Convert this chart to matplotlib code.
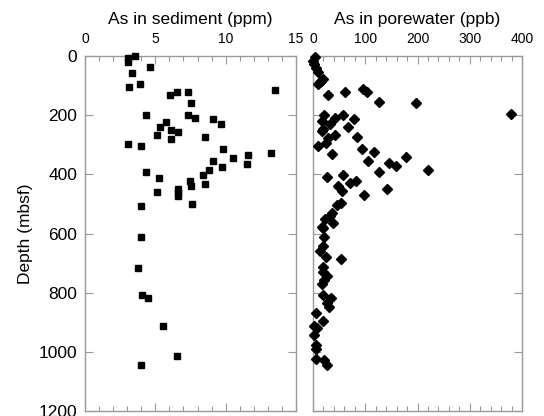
import matplotlib
matplotlib.use("Agg")
import matplotlib.pyplot as plt
from matplotlib.ticker import MultipleLocator

plt.rcParams['font.family'] = ['Liberation Sans', 'DejaVu Sans']

# As in sediment (ppm) vs depth (mbsf)
sed_ppm = [3.52, 3.05, 3.05, 4.64, 3.33, 3.14, 3.88, 13.52, 6.55, 6.02, 7.31, 7.55,
           4.36, 7.31, 7.81, 9.12, 9.64, 5.74, 5.33, 6.12, 6.64, 5.14, 6.12, 8.55,
           3.05, 3.95, 9.83, 13.2, 11.6, 10.52, 9.12, 11.5, 9.76, 8.83, 4.36, 8.40,
           5.26, 7.43, 7.55, 8.55, 5.14, 6.62, 6.62, 6.62, 3.95, 7.64,
           3.95, 3.74, 4.05, 4.45, 5.55, 6.55, 3.95]
sed_depth = [0, 8, 19, 36, 56, 106, 96, 115, 122, 132, 123, 158,
             201, 198, 208, 214, 230, 223, 241, 249, 258, 267, 279, 275,
             296, 305, 316, 327, 335, 345, 355, 365, 374, 387, 392, 401,
             411, 421, 439, 432, 459, 451, 462, 472, 506, 500,
             613, 715, 808, 819, 914, 1013, 1045]

# As in porewater (ppb) vs depth (mbsf)
pw_ppb = [3.8, 0.6, 2.5, 5.7, 10, 18.5, 13.4, 10, 15, 29.3, 61, 96, 103, 126, 197, 379,
          21.7, 58, 42, 78.5, 16.6, 32.5, 67.6, 19.8, 16.6, 42, 84.8, 29.3, 25, 10.2,
          93, 117, 37, 178, 106, 145, 158, 221, 126, 58, 26, 82, 71, 48.5, 141.6,
          55, 98, 53.6, 46.5, 35.7, 32.5, 39, 23, 16.6,
          18.5, 21, 20, 13.4, 24, 53, 18.5, 20, 26, 21, 16.6, 20, 34, 26, 31,
          5, 18.5, 2.5, 7, 1.3, 5, 5, 5, 21, 26]
pw_depth = [2, 16, 28, 42, 53, 79, 88, 96, 84, 131, 123, 113, 122, 154, 158, 197,
            199, 198, 208, 214, 220, 229, 240, 247, 253, 266, 275, 278, 295, 304,
            314, 326, 332, 342, 354, 363, 372, 385, 391, 402, 409, 421, 430, 438, 450,
            457, 469, 498, 504, 532, 540, 563, 552, 579,
            583, 611, 641, 658, 678, 686, 712, 729, 743, 757, 771, 808, 817, 834, 848,
            868, 895, 912, 918, 943, 977, 990, 1023, 1026, 1045]

fig = plt.figure(figsize=(5.44, 4.16), dpi=100)
W, H = 544, 416
ax1 = fig.add_axes([85 / W, 1 - 411 / H, 211 / W, 355 / H])
ax2 = fig.add_axes([313 / W, 1 - 411 / H, 209 / W, 355 / H])

spine_c = '#9a9a9a'
for ax in (ax1, ax2):
    ax.set_ylim(1200, 0)
    ax.yaxis.set_major_locator(MultipleLocator(200))
    ax.xaxis.tick_top()
    ax.xaxis.set_label_position('top')
    ax.tick_params(which='both', direction='in', top=True, bottom=True,
                   left=True, right=True, color=spine_c)
    ax.tick_params(axis='x', labelsize=10, pad=7)
    ax.tick_params(axis='y', labelsize=12.5, pad=5.5)
    ax.tick_params(which='major', length=6, width=0.8)
    ax.tick_params(which='minor', length=3.5, width=0.8)
    ax.tick_params(axis='y', which='minor', left=False, right=False)
    for s in ax.spines.values():
        s.set_color(spine_c)
        s.set_linewidth(1.0)

ax1.plot(sed_ppm, sed_depth, linestyle='none', marker='s', ms=5, color='black',
         clip_on=False, zorder=3)
ax1.set_xlim(0, 15)
ax1.xaxis.set_major_locator(MultipleLocator(5))
ax1.xaxis.set_minor_locator(MultipleLocator(1))
ax1.set_title('As in sediment (ppm)', fontsize=12.5, pad=6)
ax1.set_ylabel('Depth (mbsf)', fontsize=12.5, labelpad=4)

ax2.plot(pw_ppb, pw_depth, linestyle='none', marker='D', ms=4.6, color='black',
         clip_on=False, zorder=3)
ax2.set_xlim(0, 400)
ax2.xaxis.set_major_locator(MultipleLocator(100))
ax2.xaxis.set_minor_locator(MultipleLocator(20))
ax2.set_yticklabels([])
ax2.set_title('As in porewater (ppb)', fontsize=12.5, pad=6)

fig.savefig('out.png', dpi=100)
